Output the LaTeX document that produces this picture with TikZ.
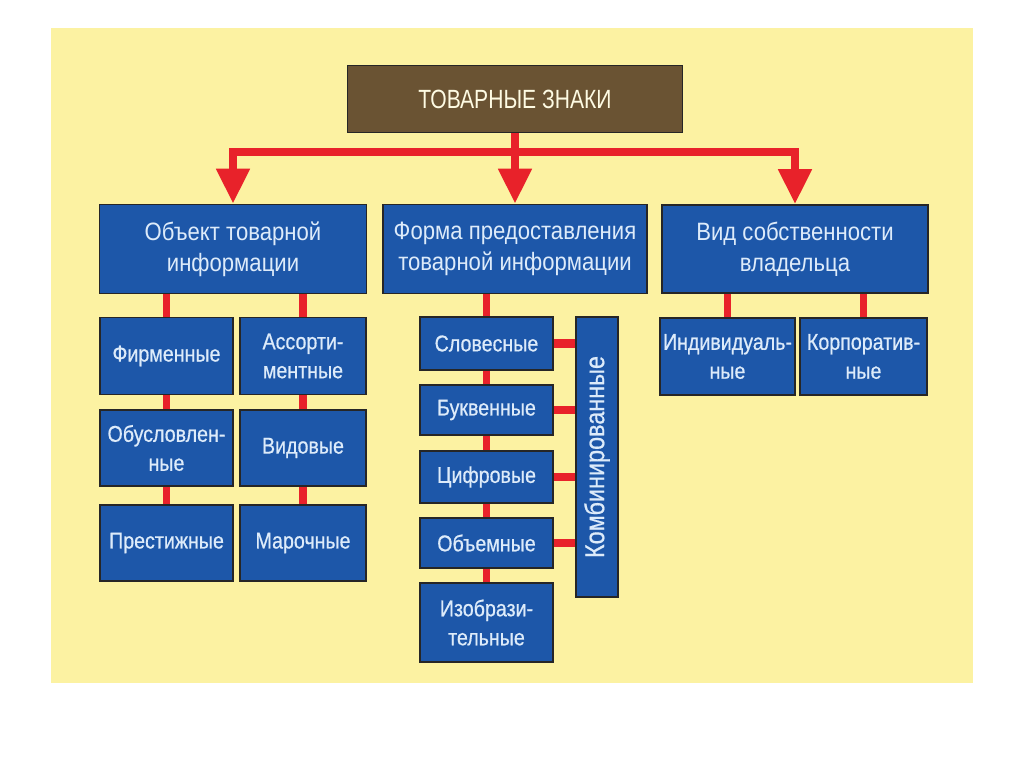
\documentclass[tikz,border=0pt]{standalone}
\usepackage{fontspec}
\setmainfont[FakeStretch=0.88]{Liberation Sans}
\newfontfamily\titlefont[FakeStretch=0.8]{Liberation Sans}
\newfontfamily\subfont[FakeStretch=0.86, FakeBold=0.6]{Liberation Sans}
\usetikzlibrary{arrows.meta}

\definecolor{bgyellow}{HTML}{FCF2A2}
\definecolor{boxblue}{HTML}{1D57A9}
\definecolor{boxbrown}{HTML}{6A5333}
\definecolor{linkred}{HTML}{E8222A}
\definecolor{boxtext}{HTML}{DDEBFA}

\begin{document}
\begin{tikzpicture}[x=0.02cm, y=-0.02cm,
    blbox/.style={draw=black!85, line width=1pt, fill=boxblue, text=boxtext, align=center, inner sep=0pt, font=\subfont\fontsize{13}{16.5}\selectfont},
    headbox/.style={blbox, font=\fontsize{14.3}{17.5}\selectfont},
    link/.style={linkred, line width=4.5pt},
    bigarrow/.style={-{Triangle[length=0.7cm, width=0.64cm]}}]
        \useasboundingbox (0,0) rectangle (1024,767);
        \fill[bgyellow] (51,28) rectangle (973,683);

        \node[draw=black!85, line width=1pt, fill=boxbrown, text=bgyellow!30, minimum width=6.7cm, minimum height=1.34cm, font=\titlefont\fontsize{15}{18}\selectfont] (top) at (515,99) {ТОВАРНЫЕ ЗНАКИ};

        \node[headbox, minimum width=5.34cm, minimum height=1.78cm] (obj) at (233,249) {Объект товарной\\информации};
        \node[headbox, minimum width=5.28cm, minimum height=1.78cm] (form) at (515,249) {Форма предоставления\\товарной информации};
        \node[headbox, minimum width=5.32cm, minimum height=1.76cm] (own) at (795,249) {Вид собственности\\владельца};

        \node[blbox, minimum width=2.66cm, minimum height=1.54cm] (firm) at (166.5,356) {Фирменные};
        \node[blbox, minimum width=2.52cm, minimum height=1.54cm] (assort) at (303,356) {Ассорти-\\ментные};
        \node[blbox, minimum width=2.66cm, minimum height=1.52cm] (obusl) at (166.5,448) {Обусловлен-\\ные};
        \node[blbox, minimum width=2.52cm, minimum height=1.52cm] (vid) at (303,448) {Видовые};
        \node[blbox, minimum width=2.66cm, minimum height=1.52cm] (prest) at (166.5,543) {Престижные};
        \node[blbox, minimum width=2.52cm, minimum height=1.52cm] (mark) at (303,543) {Марочные};

        \node[blbox, minimum width=2.66cm, minimum height=1.06cm] (slov) at (486.5,343.5) {Словесные};
        \node[blbox, minimum width=2.66cm, minimum height=1.0cm] (bukv) at (486.5,410) {Буквенные};
        \node[blbox, minimum width=2.66cm, minimum height=1.04cm] (cifr) at (486.5,477) {Цифровые};
        \node[blbox, minimum width=2.66cm, minimum height=1.0cm] (obem) at (486.5,543) {Объемные};
        \node[blbox, minimum width=2.66cm, minimum height=1.58cm] (izobr) at (486.5,622.5) {Изобрази-\\тельные};
        \node[blbox, minimum width=0.84cm, minimum height=5.6cm, font=\subfont\fontsize{15.5}{18}\selectfont] (komb) at (597,457) {\rotatebox{90}{Комбинированные}};

        \node[blbox, minimum width=2.7cm, minimum height=1.54cm] (indiv) at (727.5,356.5) {Индивидуаль-\\ные};
        \node[blbox, minimum width=2.54cm, minimum height=1.54cm] (korp) at (863.5,356.5) {Корпоратив-\\ные};

        \coordinate (bar) at (515,152);
        \draw[link] (top.south) -- (bar);
        \draw[link, bigarrow] (bar) -| (obj.north);
        \draw[link, bigarrow] (bar) -- (form.north);
        \draw[link, bigarrow] (bar) -| (own.north);

        \draw[link] (firm.north) -- (firm.north |- obj.south);
        \draw[link] (firm) -- (obusl);
        \draw[link] (obusl) -- (prest);
        \draw[link] (assort.north) -- (assort.north |- obj.south);
        \draw[link] (assort) -- (vid);
        \draw[link] (vid) -- (mark);

        \draw[link] (slov.north) -- (slov.north |- form.south);
        \draw[link] (slov) -- (bukv);
        \draw[link] (bukv) -- (cifr);
        \draw[link] (cifr) -- (obem);
        \draw[link] (obem) -- (izobr);
        \foreach \n in {slov,bukv,cifr,obem}
            \draw[link, line width=5pt] (\n.east) -- (\n.east -| komb.west);

        \draw[link] (indiv.north) -- (indiv.north |- own.south);
        \draw[link] (korp.north) -- (korp.north |- own.south);
\end{tikzpicture}
\end{document}
